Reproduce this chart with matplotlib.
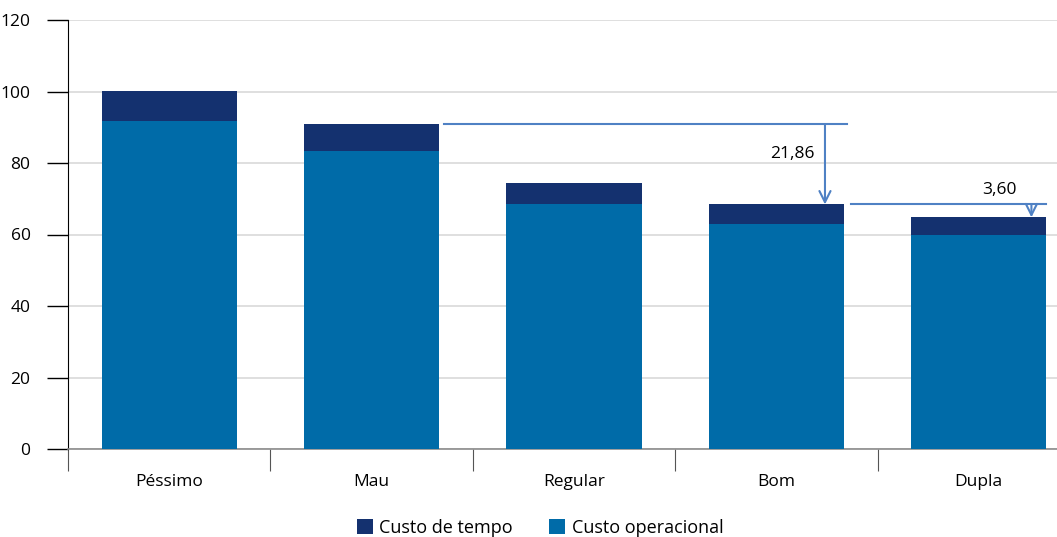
import matplotlib.pyplot as plt
import numpy as np

plt.rcParams['font.family'] = ['Open Sans', 'DejaVu Sans']

# data
categories = ['Péssimo', 'Mau', 'Regular', 'Bom', 'Dupla']
custo_operacional = [91.7, 83.4, 68.5, 62.9, 59.9]
custo_tempo = [8.4, 7.5, 5.9, 5.5, 4.9]
totais = [o + t for o, t in zip(custo_operacional, custo_tempo)]
diff_labels = ['21,86', '3,60']

col_oper = '#006BA8'
col_tempo = '#14316F'
col_arrow = '#4F81C4'

fig = plt.figure(figsize=(10.57, 5.37), dpi=100)
ax = fig.add_axes([68/1057, 88/537, 1012/1057, 429/537])

x = np.arange(len(categories))
ax.bar(x, custo_operacional, width=0.667, color=col_oper, label='Custo operacional', zorder=3)
ax.bar(x, custo_tempo, width=0.667, bottom=custo_operacional, color=col_tempo,
       label='Custo de tempo', zorder=3)

ax.set_xlim(-0.5, 4.5)
ax.set_ylim(0, 120)
ax.set_yticks(range(0, 121, 20))
ax.yaxis.grid(True, color='#d9d9d9', linewidth=1.2, zorder=0)
ax.set_axisbelow(True)

for s in ['top', 'right']:
    ax.spines[s].set_visible(False)
ax.spines['left'].set_color('black')
ax.spines['bottom'].set_color('#8c8c8c')
ax.spines['bottom'].set_linewidth(1.2)

ax.tick_params(axis='y', length=15, width=1, colors='black', labelsize=12.5, pad=12)
ax.set_xticks(x)
ax.set_xticklabels(categories, fontsize=12.5)
ax.tick_params(axis='x', length=0, pad=18)
# separators between categories
ax.set_xticks(np.arange(-0.5, 4.0, 1.0), minor=True)
ax.tick_params(axis='x', which='minor', length=16, width=0.8, color='#555555')

# annotation 1: Mau -> Bom
ax.plot([1.36, 3.35], [totais[1], totais[1]], color=col_arrow, lw=1.5, zorder=4)
ax.annotate('', xy=(3.24, totais[3]), xytext=(3.24, totais[1]),
            arrowprops=dict(arrowstyle='->', color=col_arrow, lw=1.5,
                            mutation_scale=20, shrinkA=0, shrinkB=0), zorder=4)
ax.text(3.19, 82.5, diff_labels[0], ha='right', va='center', fontsize=12.5)

# annotation 2: Bom -> Dupla
ax.plot([3.37, 4.33], [totais[3], totais[3]], color=col_arrow, lw=1.5, zorder=4)
ax.annotate('', xy=(4.26, totais[4]), xytext=(4.26, totais[3]),
            arrowprops=dict(arrowstyle='->', color=col_arrow, lw=1.5,
                            mutation_scale=20, shrinkA=0, shrinkB=0), zorder=4)
ax.text(4.10, 72.5, diff_labels[1], ha='center', va='center', fontsize=12.5)

handles, labels = ax.get_legend_handles_labels()
fig.legend(handles[::-1], labels[::-1], loc='center', bbox_to_anchor=(0.511, 0.017),
           ncol=2, frameon=False, fontsize=13, handlelength=0.9, handleheight=0.9,
           handletextpad=0.35, columnspacing=2.0, borderaxespad=0)

fig.savefig('out.png', dpi=100)
